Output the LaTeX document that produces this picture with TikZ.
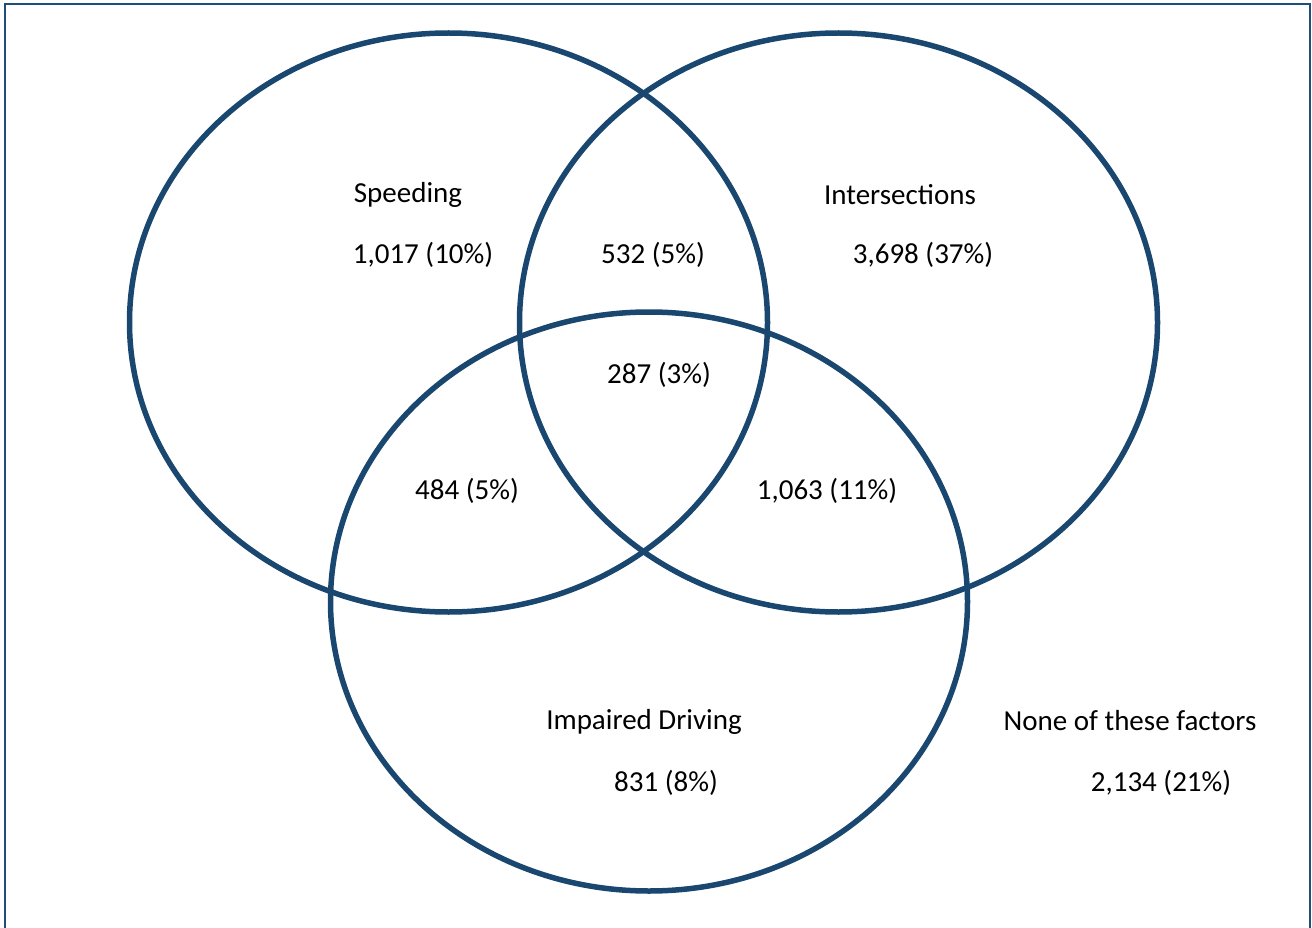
\documentclass[tikz,border=0pt]{standalone}
\usepackage{fontspec}
\setmainfont{Carlito}
\definecolor{vennblue}{HTML}{19476F}
\definecolor{framecol}{HTML}{1F4E79}
\begin{document}
\begin{tikzpicture}[x=1pt,y=-1pt,
  venn/.style={draw=vennblue,line width=5.5pt},
  lbl/.style={font=\fontsize{29}{34}\selectfont,text=black,inner sep=0pt,anchor=center}]
\useasboundingbox (0,0) rectangle (1312,928);
\draw[framecol,line width=2.4pt] (5,940) -- (5,4) -- (1310,4) -- (1310,940);
\draw[venn] (448.5,322.5) ellipse [x radius=319, y radius=289.5];
\draw[venn] (838.5,322.5) ellipse [x radius=319, y radius=289.5];
\draw[venn] (649,601.5) ellipse [x radius=318.5, y radius=289.5];
\node[lbl] (sp) at (408,195) {Speeding};
\node[lbl] (spn) at (423,255) {1,017 (10\%)};
\node[lbl] (si) at (653,255) {532 (5\%)};
\node[lbl] (in) at (900,195) {Intersections};
\node[lbl] (inn) at (923,255) {3,698 (37\%)};
\node[lbl] (all) at (659,375) {287 (3\%)};
\node[lbl] (sd) at (467,491) {484 (5\%)};
\node[lbl] (id) at (827,491) {1,063 (11\%)};
\node[lbl] (im) at (644,722) {Impaired Driving};
\node[lbl] (imn) at (666,783) {831 (8\%)};
\node[lbl] (no) at (1130,721) {None of these factors};
\node[lbl] (non) at (1161,783) {2,134 (21\%)};
\end{tikzpicture}
\end{document}
